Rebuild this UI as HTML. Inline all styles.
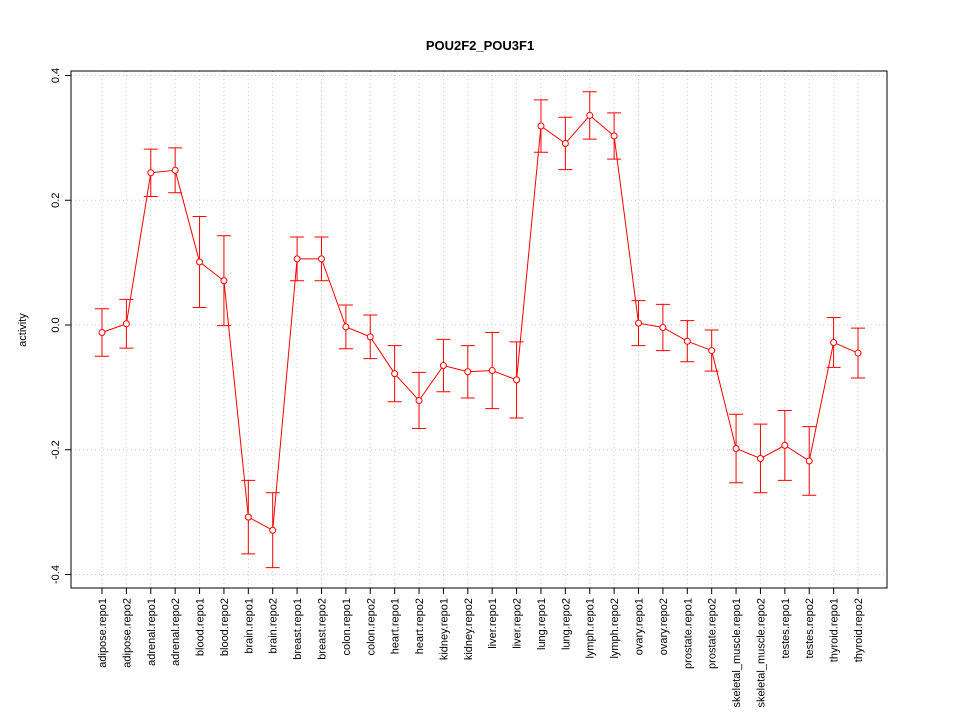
<!DOCTYPE html>
<html><head><meta charset="utf-8"><style>
body{margin:0;background:#fff;}
svg{display:block;font-family:"Liberation Sans",sans-serif;}
</style></head><body>
<svg id="chart" width="960" height="720" xmlns="http://www.w3.org/2000/svg">
<rect width="960" height="720" fill="#fff"/>
<text x="480" y="50" text-anchor="middle" font-size="13" font-weight="bold">POU2F2_POU3F1</text>
<text transform="translate(26,330) rotate(-90)" text-anchor="middle" font-size="11">activity</text>
<g id="grid"></g><g id="axes"></g><g id="series"></g>
</svg>
<script>
const categories=["adipose.repo1","adipose.repo2","adrenal.repo1","adrenal.repo2","blood.repo1","blood.repo2","brain.repo1","brain.repo2","breast.repo1","breast.repo2","colon.repo1","colon.repo2","heart.repo1","heart.repo2","kidney.repo1","kidney.repo2","liver.repo1","liver.repo2","lung.repo1","lung.repo2","lymph.repo1","lymph.repo2","ovary.repo1","ovary.repo2","prostate.repo1","prostate.repo2","skeletal_muscle.repo1","skeletal_muscle.repo2","testes.repo1","testes.repo2","thyroid.repo1","thyroid.repo2"];
const values=[-0.012,0.002,0.244,0.248,0.101,0.071,-0.308,-0.329,0.106,0.106,-0.003,-0.019,-0.078,-0.121,-0.065,-0.075,-0.073,-0.088,0.319,0.291,0.336,0.303,0.003,-0.004,-0.026,-0.041,-0.198,-0.214,-0.193,-0.218,-0.028,-0.045];
const errors=[0.038,0.039,0.038,0.036,0.073,0.072,0.059,0.06,0.035,0.035,0.035,0.035,0.045,0.045,0.042,0.042,0.061,0.061,0.042,0.042,0.038,0.037,0.036,0.037,0.033,0.033,0.055,0.055,0.056,0.055,0.04,0.04];
const yTicks=[-0.4,-0.2,0.0,0.2,0.4];
const yTickLabels=["-0.4","-0.2","0.0","0.2","0.4"];
const NS="http://www.w3.org/2000/svg";
const L=71,R=887,T=71,B=588;
const x=i=>102+i*(858-102)/(categories.length-1);
const y=v=>325-v*623.75;
function mk(tag,attrs,parent){const e=document.createElementNS(NS,tag);for(const k in attrs)e.setAttribute(k,attrs[k]);parent.appendChild(e);return e;}
const grid=document.getElementById('grid'),axes=document.getElementById('axes'),series=document.getElementById('series');
categories.forEach((c,i)=>{
  const g=mk('line',{x1:x(i),x2:x(i),y1:T,y2:B,stroke:'#ccc','stroke-dasharray':'1,3'},grid);
  
  
  const t=mk('line',{x1:x(i),x2:x(i),y1:B,y2:B+6,stroke:'#000'},axes);
  
  
  const lb=mk('text',{transform:`translate(${x(i)+4},${B+10}) rotate(-90)`,'text-anchor':'end','font-size':'11'},axes);
  lb.textContent=c;
  
  
});
yTicks.forEach((v,i)=>{
  const g=mk('line',{x1:L,x2:R,y1:y(v),y2:y(v),stroke:'#ccc','stroke-dasharray':'1,3'},grid);
  
  
  const t=mk('line',{x1:L-6,x2:L,y1:y(v),y2:y(v),stroke:'#000'},axes);
  
  
  const lb=mk('text',{transform:`translate(${L-12},${y(v)}) rotate(-90)`,'text-anchor':'middle','font-size':'11'},axes);
  lb.textContent=yTickLabels[i];
  
  
});
const frame=mk('rect',{x:L,y:T,width:R-L,height:B-T,fill:'none',stroke:'#000'},axes);


const line=mk('polyline',{points:values.map((v,i)=>x(i)+','+y(v)).join(' '),fill:'none',stroke:'#f00'},series);


values.forEach((v,i)=>{
  const cx=x(i),hi=y(v+errors[i]),lo=y(v-errors[i]);
  const eb=mk('path',{d:`M${cx},${hi}V${lo}M${cx-7},${hi}H${cx+7}M${cx-7},${lo}H${cx+7}`,stroke:'#f00',fill:'none'},series);
  
  
  const p=mk('circle',{cx:cx,cy:y(v),r:3,fill:'#fff',stroke:'#f00'},series);
  
  
});
</script>
</body></html>
